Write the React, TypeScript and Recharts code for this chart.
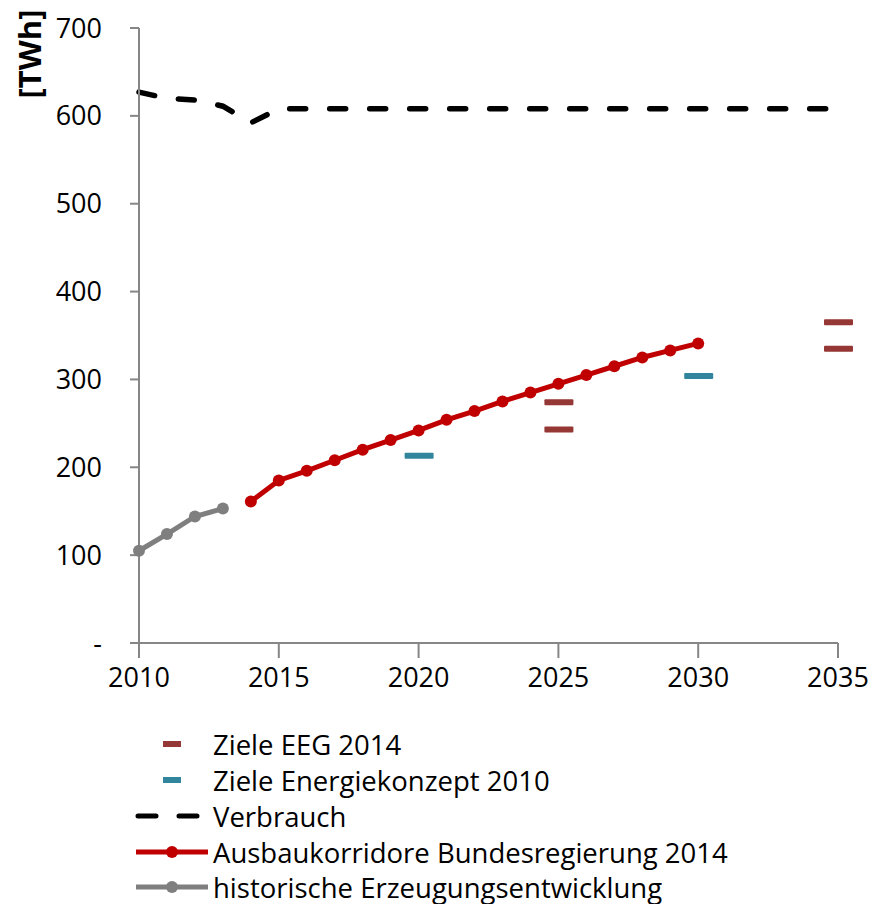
import React from 'react';
import { ComposedChart, Line, XAxis, YAxis, Legend } from 'recharts';

// Jahre der Zeitachse
const years = [
  2010, 2011, 2012, 2013, 2014, 2015, 2016, 2017, 2018, 2019, 2020, 2021, 2022,
  2023, 2024, 2025, 2026, 2027, 2028, 2029, 2030, 2031, 2032, 2033, 2034, 2035,
];

// historische Erzeugungsentwicklung [TWh]
const histYears = [2010, 2011, 2012, 2013];
const histValues = [105, 124, 144, 153];

// Ausbaukorridore Bundesregierung 2014 [TWh]
const ausbauYears = [2014, 2015, 2016, 2017, 2018, 2019, 2020, 2021, 2022, 2023, 2024, 2025, 2026, 2027, 2028, 2029, 2030];
const ausbauValues = [161, 185, 196, 208, 220, 231, 242, 254, 264, 275, 285, 295, 305, 315, 325, 333, 341];

// Verbrauch [TWh]
const verbrauchYears = [2010, 2011, 2012, 2013, 2014, 2015, 2020, 2025, 2030, 2035];
const verbrauchValues = [627, 620, 618, 611, 592, 608, 608, 608, 608, 608];

// Ziele EEG 2014 (Unter- und Obergrenze)
const eegYears = [2025, 2035];
const eegLow = [243, 335];
const eegHigh = [274, 365];

// Ziele Energiekonzept 2010
const ekYears = [2020, 2030];
const ekValues = [213, 304];

const xTicks = [2010, 2015, 2020, 2025, 2030, 2035];
const yTicks = [0, 100, 200, 300, 400, 500, 600, 700];

const pick = (ys: number[], vs: number[], y: number) => {
  const i = ys.indexOf(y);
  return i >= 0 ? vs[i] : null;
};

const data = years.map(y => ({
  year: y,
  hist: pick(histYears, histValues, y),
  ausbau: pick(ausbauYears, ausbauValues, y),
  verbrauch: pick(verbrauchYears, verbrauchValues, y),
  eegLow: pick(eegYears, eegLow, y),
  eegHigh: pick(eegYears, eegHigh, y),
  ek: pick(ekYears, ekValues, y),
}));

const FONT = '"Open Sans", sans-serif';
const AXIS = '#868686';
const RED = '#C00000';
const GREY = '#7F7F7F';
const EEG = '#953735';
const EK = '#31859C';

const targetMark = (color: string) => (props: any) => {
  const { cx, cy, index } = props;
  if (cx == null || cy == null || Number.isNaN(cy)) return <g key={index} />;
  return <rect key={index} x={cx - 14} y={cy - 3} width={29} height={6} rx={1} fill={color} />;
};

const LegendBox = () => {
  const rows = [19, 55, 91, 127, 162];
  const textX = 213;
  return (
    <svg width={874} height={185} style={{ display: 'block', fontFamily: FONT }}>
      <rect x={163} y={rows[0] - 3} width={18} height={6} fill={EEG} />
      <rect x={163} y={rows[1] - 3} width={18} height={6} fill={EK} />
      <line x1={136} x2={208} y1={rows[2]} y2={rows[2]} stroke="#000" strokeWidth={5}
        strokeDasharray="18 23" strokeLinecap="round" transform="translate(2,0)" />
      <line x1={136} x2={208} y1={rows[3]} y2={rows[3]} stroke={RED} strokeWidth={5} />
      <circle cx={172} cy={rows[3]} r={6} fill={RED} />
      <line x1={136} x2={208} y1={rows[4]} y2={rows[4]} stroke={GREY} strokeWidth={5} />
      <circle cx={172} cy={rows[4]} r={6} fill={GREY} />
      {['Ziele EEG 2014', 'Ziele Energiekonzept 2010', 'Verbrauch',
        'Ausbaukorridore Bundesregierung 2014', 'historische Erzeugungsentwicklung'].map((t, i) => (
        <text key={t} x={textX} y={rows[i]} dominantBaseline="central" fontSize={27.5} fill="#000">{t}</text>
      ))}
    </svg>
  );
};

export default function App() {
  return (
    <div style={{ position: 'absolute', left: 0, top: 0, width: 874, height: 904, background: '#fff' }}>
      <ComposedChart
        width={874}
        height={904}
        data={data}
        margin={{ top: 28, right: 36, left: 0, bottom: 201 }}
        style={{ fontFamily: FONT }}
      >
        <XAxis
          dataKey="year"
          type="number"
          domain={[2010, 2035]}
          ticks={xTicks}
          height={60}
          tickSize={15}
          tickMargin={10}
          stroke={AXIS}
          strokeWidth={2}
          tick={{ fill: '#000', fontSize: 27 }}
        />
        <YAxis
          domain={[0, 700]}
          ticks={yTicks}
          width={139}
          tickSize={9}
          tickMargin={28}
          stroke={AXIS}
          strokeWidth={2}
          tick={{ fill: '#000', fontSize: 27 }}
          tickFormatter={(v: number) => (v === 0 ? '-' : String(v))}
          label={() => (
            <text transform="translate(29,54) rotate(-90)" textAnchor="middle" dominantBaseline="central"
              fontSize={31} fontWeight="bold" fill="#000" fontFamily={FONT}>[TWh]</text>
          )}
        />
        <Line dataKey="verbrauch" stroke="#000" strokeWidth={5.5} strokeDasharray="16 24" strokeLinecap="round"
          dot={false} connectNulls isAnimationActive={false} />
        <Line dataKey="hist" stroke={GREY} strokeWidth={5} dot={{ r: 6, fill: GREY, stroke: GREY, strokeWidth: 0 }}
          isAnimationActive={false} />
        <Line dataKey="ausbau" stroke={RED} strokeWidth={5} dot={{ r: 6, fill: RED, stroke: RED, strokeWidth: 0 }}
          isAnimationActive={false} />
        <Line dataKey="eegHigh" stroke="none" dot={targetMark(EEG)} activeDot={false} isAnimationActive={false} />
        <Line dataKey="eegLow" stroke="none" dot={targetMark(EEG)} activeDot={false} isAnimationActive={false} />
        <Line dataKey="ek" stroke="none" dot={targetMark(EK)} activeDot={false} isAnimationActive={false} />
        <Legend
          layout="vertical"
          align="center"
          verticalAlign="middle"
          content={() => <LegendBox />}
          wrapperStyle={{ top: 725, left: 0, width: 874 }}
        />
      </ComposedChart>
    </div>
  );
}
